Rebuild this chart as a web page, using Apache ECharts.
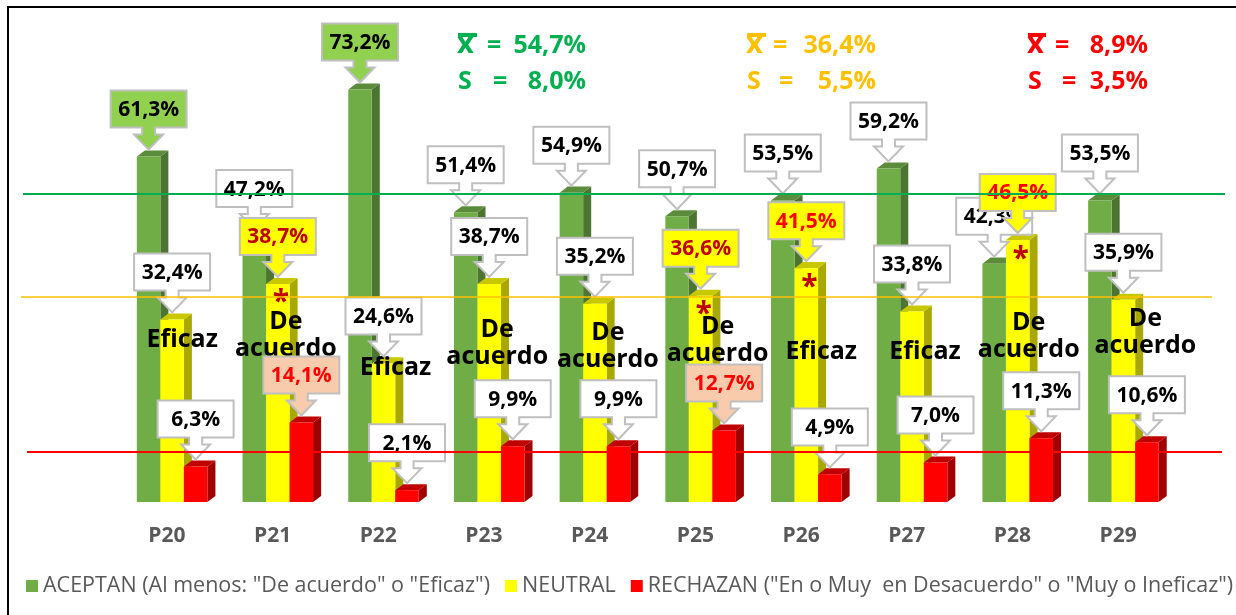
<!DOCTYPE html>
<html>
<head>
<meta charset="utf-8">
<script src="https://cdn.jsdelivr.net/npm/echarts@6/dist/echarts.min.js"></script>
<style>
  html, body { margin: 0; padding: 0; background: #ffffff; }
  #chart { width: 1236px; height: 615px; }
</style>
</head>
<body>
<div id="chart"></div>
<script>
// ---- data ----
const categories = ['P20', 'P21', 'P22', 'P23', 'P24', 'P25', 'P26', 'P27', 'P28', 'P29'];
const aceptan  = [61.3, 47.2, 73.2, 51.4, 54.9, 50.7, 53.5, 59.2, 42.3, 53.5];
const neutral  = [32.4, 38.7, 24.6, 38.7, 35.2, 36.6, 41.5, 33.8, 46.5, 35.9];
const rechazan = [6.3, 14.1, 2.1, 9.9, 9.9, 12.7, 4.9, 7.0, 11.3, 10.6];

const seriesNames = [
  'ACEPTAN (Al menos: "De acuerdo" o "Eficaz")',
  'NEUTRAL',
  'RECHAZAN ("En o Muy  en Desacuerdo" o "Muy o Ineficaz")'
];

// verdict printed over each question, and whether it carries an asterisk
const verdicts = ['Eficaz', 'De acuerdo', 'Eficaz', 'De acuerdo', 'De acuerdo',
                  'De acuerdo', 'Eficaz', 'Eficaz', 'De acuerdo', 'De acuerdo'];
const starred  = [false, true, false, false, false, true, true, false, true, false];

// summary statistics per group
const means = [54.7, 36.4, 8.9];
const sds   = [8.0, 5.5, 3.5];

// which value callouts are highlighted
const aceptanTags  = ['green', 'plain', 'green', 'plain', 'plain', 'plain', 'plain', 'plain', 'plain', 'plain'];
const neutralTags  = ['plain', 'yellowDark', 'plain', 'plain', 'plain', 'yellowDark', 'yellowRed', 'plain', 'yellowRed', 'plain'];
const rechazanTags = ['plain', 'peach', 'plain', 'plain', 'plain', 'peach', 'plain', 'plain', 'plain', 'plain'];

// ---- styling ----
const FONT = '"Open Sans", "Noto Sans", sans-serif';
const palette = [
  { front: '#70ad47', side: '#4b7530', top: '#5b8c3b' },
  { front: '#ffff00', side: '#a8a800', top: '#c8c800' },
  { front: '#ff0000', side: '#a00000', top: '#c00000' }
];
const lineColors = ['#00b050', '#ffc000', '#ff0000'];
const lineWidths = [2, 1.5, 2];
const lineSpans  = [[23, 1225], [21, 1212], [27, 1222]];

const tagStyle = {
  plain:      { fill: '#ffffff', text: '#000000' },
  green:      { fill: '#92d050', text: '#000000' },
  yellowDark: { fill: '#ffff00', text: '#c00000' },
  yellowRed:  { fill: '#ffff00', text: '#ff0000' },
  peach:      { fill: '#f8cbad', text: '#ff0000' }
};
const allTags = [aceptanTags, neutralTags, rechazanTags];
const allValues = [aceptan, neutral, rechazan];

// bar geometry as fractions of the category band
const BAR = { start: -0.284, width: 0.2225, depthX: 0.076, depthY: 0.057 };
// callout geometry, px
const CALL = { w: 76, h: 37, gap: 22, lift: 7, stemHalf: 6.5, headHalf: 14.5, stem: 7 };

// verdict text placement: x shift from the yellow bar centre, y of first line centre above the baseline
const verdictPlace = [
  [10, 162], [8, 180], [12, 134], [8, 172], [13, 169],
  [17, 175], [15, 150], [13, 150], [11, 179], [22, 183]
];

const fmt = v => v.toFixed(1).replace('.', ',') + '%';

function barFrontX(api, i, slot) {
  const band = api.size([1, 0])[0];
  const c = api.coord([i, 0])[0];
  return { x0: c + band * (BAR.start + slot * BAR.width), w: band * BAR.width, band };
}

function barSeries(slot) {
  const col = palette[slot];
  return {
    type: 'custom',
    name: seriesNames[slot],
    coordinateSystem: 'cartesian2d',
    itemStyle: { color: col.front },
    data: allValues[slot].map((v, i) => [i, v]),
    encode: { x: 0, y: 1 },
    z: 2,
    renderItem(params, api) {
      const i = api.value(0), v = api.value(1);
      const g = barFrontX(api, i, slot);
      const yb = api.coord([i, 0])[1];
      const yt = api.coord([i, v])[1];
      const dx = g.band * BAR.depthX, dy = g.band * BAR.depthY;
      const x0 = g.x0, x1 = g.x0 + g.w;
      return {
        type: 'group',
        children: [
          { type: 'polygon', shape: { points: [[x1, yt], [x1 + dx, yt - dy], [x1 + dx, yb - dy], [x1, yb]] },
            style: { fill: col.side } },
          { type: 'polygon', shape: { points: [[x0, yt], [x0 + dx, yt - dy], [x1 + dx, yt - dy], [x1, yt]] },
            style: { fill: col.top } },
          { type: 'rect', shape: { x: x0, y: yt, width: g.w, height: yb - yt },
            style: { fill: col.front } }
        ]
      };
    }
  };
}

// value callouts: box with a down arrow pointing at the bar top
const calloutData = [];
[0, 1, 2].forEach(s => allValues[s].forEach((v, i) => calloutData.push([i, v, s])));

const calloutSeries = {
  type: 'custom',
  name: 'callouts',
  coordinateSystem: 'cartesian2d',
  data: calloutData,
  encode: { x: 0, y: 1 },
  z: 4,
  renderItem(params, api) {
    const i = api.value(0), v = api.value(1), s = api.value(2);
    const g = barFrontX(api, i, s);
    const cx = g.x0 + g.w / 2;
    const tip = api.coord([i, v])[1] - CALL.lift;
    const yb = tip - CALL.gap, yt = yb - CALL.h;
    const hw = CALL.w / 2, sh = CALL.stemHalf, hh = CALL.headHalf, ys = yb + CALL.stem;
    const st = tagStyle[allTags[s][i]];
    return {
      type: 'group',
      children: [
        { type: 'polygon',
          shape: { points: [[cx - hw, yt], [cx + hw, yt], [cx + hw, yb], [cx + sh, yb], [cx + sh, ys],
                            [cx + hh, ys], [cx, tip], [cx - hh, ys], [cx - sh, ys], [cx - sh, yb], [cx - hw, yb]] },
          style: { fill: st.fill, stroke: '#bfbfbf', lineWidth: 2, lineJoin: 'miter' } },
        { type: 'text',
          style: { text: fmt(v), x: cx, y: (yt + yb) / 2 + 1, fill: st.text,
                   font: 'bold 21px ' + FONT, align: 'center', verticalAlign: 'middle' } }
      ]
    };
  }
};

// verdict words and asterisks over each question
const verdictSeries = {
  type: 'custom',
  name: 'verdicts',
  coordinateSystem: 'cartesian2d',
  data: neutral.map((v, i) => [i, v]),
  encode: { x: 0, y: 1 },
  z: 3,
  renderItem(params, api) {
    const i = api.value(0), v = api.value(1);
    const g = barFrontX(api, i, 1);
    const cy = g.x0 + g.w / 2;
    const base = api.coord([i, 0])[1];
    const place = verdictPlace[i];
    const x = cy + place[0];
    const children = [];
    verdicts[i].split(' ').forEach((word, n) => {
      children.push({ type: 'text', style: { text: word, x, y: base - place[1] + n * 27,
        fill: '#000', font: 'bold 25px ' + FONT, align: 'center', verticalAlign: 'middle' } });
    });
    if (starred[i]) {
      const top = api.coord([i, v])[1];
      children.push({ type: 'text', style: { text: '*', x: cy + 3, y: top + 19,
        fill: '#c00000', font: 'bold 30px ' + FONT, align: 'center', verticalAlign: 'middle' } });
    }
    return { type: 'group', children };
  }
};

// mean reference lines across the whole panel
const meanLineSeries = {
  type: 'custom',
  name: 'means',
  coordinateSystem: 'cartesian2d',
  data: means.map((m, k) => [0, m, k]),
  encode: { x: 0, y: 1 },
  z: 6,
  renderItem(params, api) {
    const m = api.value(1), k = api.value(2);
    const y = Math.round(api.coord([0, m])[1]);
    return { type: 'rect',
             shape: { x: lineSpans[k][0], y: y - lineWidths[k] / 2, width: lineSpans[k][1] - lineSpans[k][0], height: lineWidths[k] },
             style: { fill: lineColors[k] } };
  }
};

// mean / standard deviation captions
function statBlock(k, pos) {
  const color = lineColors[k];
  const f = 'bold 25px ' + FONT;
  const els = [];
  const t = (text, x, y, align, font) => els.push({ type: 'text', z: 10,
    style: { text, x, y, fill: color, font: font || f, textAlign: align || 'left', textVerticalAlign: 'middle' } });
  t('x', pos.x0 - 1, 45, 'left', 'bold 29px ' + FONT);
  els.push({ type: 'rect', z: 10, shape: { x: pos.x0, y: 33, width: pos.barW, height: 4 }, style: { fill: color } });
  t('=', pos.eq1, 46);
  t(fmt(means[k]), pos.end, 46, 'right');
  t('S', pos.x0, 82);
  t('=', pos.eq2, 82);
  t(fmt(sds[k]), pos.end, 82, 'right');
  return els;
}

const graphics = [
  { type: 'rect', z: 0, shape: { x: 8, y: 7, width: 1260, height: 640 },
    style: { fill: 'none', stroke: '#000000', lineWidth: 2 } },
  ...statBlock(0, { x0: 458, barW: 19, eq1: 487, eq2: 493, end: 586 }),
  ...statBlock(1, { x0: 747, barW: 19, eq1: 773, eq2: 779, end: 876 }),
  ...statBlock(2, { x0: 1028, barW: 18, eq1: 1055, eq2: 1062, end: 1148 })
];

const chart = echarts.init(document.getElementById('chart'), null, { renderer: 'canvas' });
chart.setOption({
  animation: false,
  backgroundColor: '#ffffff',
  grid: { left: 114, right: 65, top: 51.2, bottom: 113, containLabel: false },
  xAxis: {
    type: 'category',
    data: categories,
    axisLine: { show: false },
    axisTick: { show: false },
    axisLabel: { color: '#595959', fontWeight: 'bold', fontSize: 21, fontFamily: FONT, margin: 24 }
  },
  yAxis: { type: 'value', min: 0, max: 80, show: false, splitLine: { show: false } },
  legend: {
    data: seriesNames.map((n, k) => ({ name: n, itemStyle: { color: palette[k].front } })),
    left: 26, top: 575, padding: 0,
    icon: 'rect', itemWidth: 12, itemHeight: 12, itemGap: 15,
    textStyle: { color: '#595959', fontSize: 21.5, fontFamily: FONT },
    selectedMode: false
  },
  graphic: graphics,
  series: [barSeries(0), barSeries(1), barSeries(2), verdictSeries, calloutSeries, meanLineSeries]
});
</script>
</body>
</html>
